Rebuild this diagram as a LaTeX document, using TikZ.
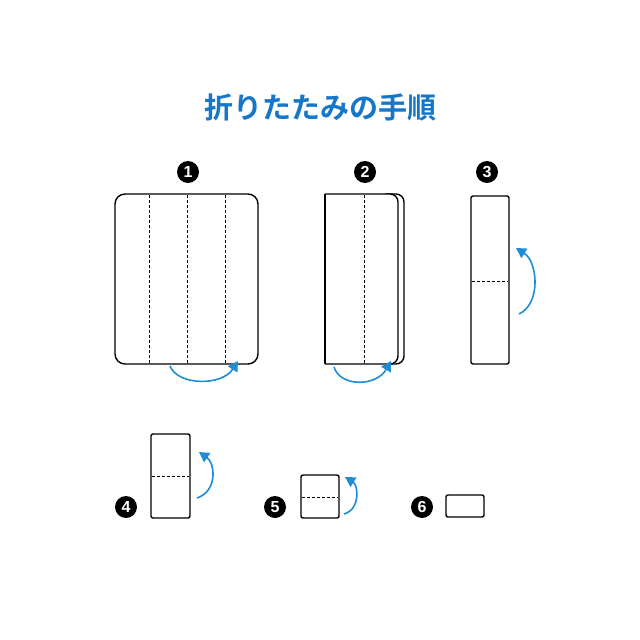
\documentclass[tikz,border=0pt]{standalone}
\usepackage{fontspec}
\newfontfamily\cjkbold{Noto Sans CJK JP Bold}
\newfontfamily\numfont{Liberation Sans}
\usetikzlibrary{arrows.meta}
\definecolor{titleblue}{RGB}{22,118,200}
\definecolor{arrowblue}{RGB}{30,140,215}
\tikzset{
  sheet/.style={draw=black,line width=1.4pt,fill=white},
  fold/.style={draw=black,line width=0.9pt,dash pattern=on 3pt off 2pt},
  turn/.style={draw=arrowblue,line width=1.6pt,-{Triangle[width=11pt,length=10pt]}},
  stepnum/.style={circle,fill=black,minimum size=22pt,inner sep=0pt,text=white,font=\numfont\bfseries\fontsize{16pt}{16pt}\selectfont},
}
\begin{document}
\begin{tikzpicture}[x=1pt,y=-1pt]
\useasboundingbox (0,0) rectangle (640,640);
\fill[white] (0,0) rectangle (640,640);
% title
\node[text=titleblue,font=\cjkbold\fontsize{29pt}{29pt}\selectfont] (title) at (320,107) {折りたたみの手順};
% step numbers
\node[stepnum] (n1) at (188,172) {1};
\node[stepnum] (n2) at (365,172) {2};
\node[stepnum] (n3) at (487,172) {3};
\node[stepnum] (n4) at (126,507) {4};
\node[stepnum] (n5) at (275,507) {5};
\node[stepnum] (n6) at (422,507) {6};
% figure 1
\draw[sheet,rounded corners=10pt] (115,194) rectangle (258,364);
\draw[fold] (149,195) -- (149,363);
\draw[fold] (187,195) -- (187,363);
\draw[fold] (225,195) -- (225,363);
\coordinate (a1s) at (170,366);
\coordinate (a1e) at (238,361);
\draw[turn] (a1s) .. controls (178,386) and (222,386) .. (a1e);
% figure 2
\draw[sheet,rounded corners=8pt] (385,194) -- (404,194) -- (404,364) -- (385,364);
\filldraw[sheet,rounded corners=8pt] (325,194) -- (398,194) -- (398,364) -- (325,364);
\draw[line width=1.4pt,line cap=square] (325,194) -- (325,364);
\draw[fold] (364,195) -- (364,363);
\coordinate (a2s) at (334,367);
\coordinate (a2e) at (391,361);
\draw[turn] (a2s) .. controls (340,387) and (376,387) .. (a2e);
% figure 3
\draw[sheet,rounded corners=2pt] (471,196) rectangle (509,364);
\draw[fold] (472,281) -- (508,281);
\coordinate (a3s) at (519,314);
\coordinate (a3e) at (516,248);
\draw[turn] (a3s) .. controls (541,304) and (538,262) .. (a3e);
% figure 4
\draw[sheet,rounded corners=2pt] (151,434) rectangle (190,518);
\draw[fold] (152,476) -- (189,476);
\coordinate (a4s) at (197,498);
\coordinate (a4e) at (199,452);
\draw[turn] (a4s) .. controls (218,491) and (215,463) .. (a4e);
% figure 5
\draw[sheet,rounded corners=2pt] (301,475) rectangle (339,518);
\draw[fold] (302,497) -- (338,497);
\coordinate (a5s) at (344,514);
\coordinate (a5e) at (345,477);
\draw[turn] (a5s) .. controls (361,509) and (358,485) .. (a5e);
% figure 6
\draw[sheet,rounded corners=2pt] (446,495) rectangle (484,517);
\end{tikzpicture}
\end{document}
